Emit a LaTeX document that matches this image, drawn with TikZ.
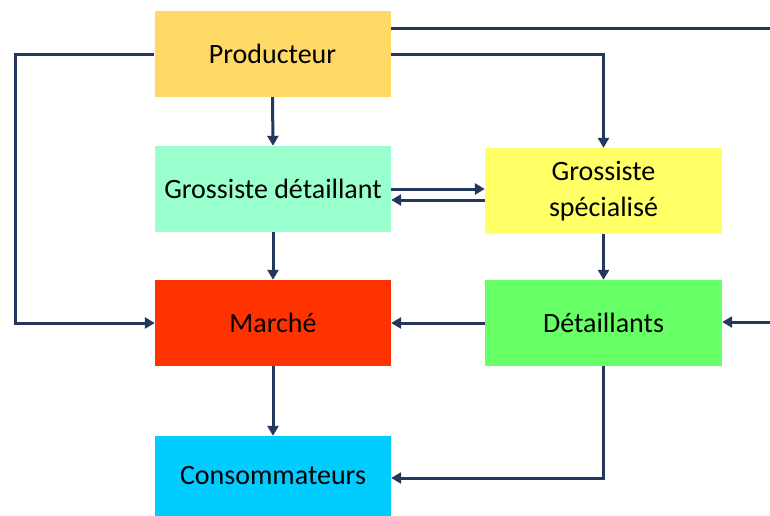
\documentclass[tikz,border=0pt]{standalone}
\usepackage{fontspec}
\setmainfont{Carlito}
\usetikzlibrary{arrows.meta}
\definecolor{navy}{HTML}{23375F}
\tikzset{
  box/.style={draw=none, minimum width=236pt, minimum height=86pt, inner sep=0pt, align=center, font=\fontsize{28}{36}\selectfont},
  conn/.style={draw=navy, line width=3pt},
  arr/.style={conn, -{Triangle[length=10pt,width=11pt]}},
}
\begin{document}
\begin{tikzpicture}[x=1pt,y=-1pt]
\useasboundingbox[fill=white] (0,0) rectangle (770,515);
\node[box, fill={rgb,255:red,255;green,217;blue,102}] (prod) at (272.5,54) {Producteur};
\node[box, fill={rgb,255:red,153;green,255;blue,204}] (gd) at (273,189) {Grossiste détaillant};
\node[box, fill={rgb,255:red,255;green,255;blue,102}, minimum width=237pt] (gs) at (603.5,191) {Grossiste\\spécialisé};
\node[box, fill={rgb,255:red,255;green,51;blue,0}] (mar) at (273,323) {Marché};
\node[box, fill={rgb,255:red,102;green,255;blue,102}, minimum width=237pt] (det) at (603.5,323) {Détaillants};
\node[box, fill={rgb,255:red,0;green,204;blue,255}, minimum height=80pt] (con) at (273,476) {\raisebox{-3pt}{Consommateurs}};
\coordinate (outA) at (770,28);
\coordinate (outB) at (770,322);
\coordinate (lc) at (15,54);
% connectors
\draw[conn] (prod.east |- outA) -- (outA);
\draw[arr] (outB) -- (det.east |- outB);
\draw[arr] (prod.south) -- (gd.north);
\draw[arr] (prod.east) -| (gs.north);
\draw[arr] (prod.west) -- (lc) |- (mar.west);
\draw[arr] (gd.east) -- ([yshift=2pt]gs.west);
\draw[arr] ([yshift=-9pt]gs.west) -- ([yshift=-11pt]gd.east);
\draw[arr] (gd.south) -- (mar.north);
\draw[arr] (gs.south) -- (det.north);
\draw[arr] (det.west) -- (mar.east);
\draw[arr] (mar.south) -- (con.north);
\draw[arr] (det.south) |- ([yshift=-2pt]con.east);
\end{tikzpicture}
\end{document}
